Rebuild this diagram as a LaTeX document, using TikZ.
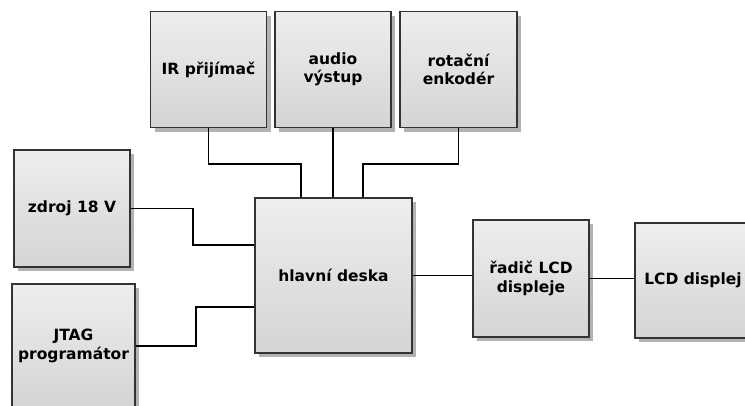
\documentclass[tikz,border=0pt]{standalone}
\usepackage{fontspec}
\setmainfont{DejaVu Sans}
\definecolor{BoxTop}{RGB}{238,238,238}
\definecolor{BoxBottom}{RGB}{212,212,212}
\definecolor{BoxEdge}{RGB}{51,51,51}
\definecolor{BoxShadow}{RGB}{178,178,178}
\usetikzlibrary{positioning,shadows,calc}

\begin{document}
\begin{tikzpicture}[x=1pt,y=-1pt,
        block/.style={draw=BoxEdge,line width=1.8pt,top color=BoxTop,bottom color=BoxBottom,
            drop shadow={shadow xshift=4pt,shadow yshift=-4pt,fill=BoxShadow,opacity=1},
            minimum width=116pt,minimum height=116pt,align=center,inner sep=2pt,
            font=\fontsize{15.5}{18.5}\selectfont\bfseries},
        wire/.style={line width=1.9pt,black}]
        \useasboundingbox (0,0) rectangle (745,405);
        % top row
        \node[block] at (208.5,69.5) (ir) {IR přijímač};
        \node[block] at (333,69.5) (audio) {audio\\výstup};
        \node[block,minimum width=117pt] at (458.5,69.5) (rot) {rotační\\enkodér};
        % left column
        \node[block,minimum height=117pt] at (72,208.5) (zdroj) {zdroj 18 V};
        \node[block,minimum width=123pt,minimum height=124pt] at (73.5,346) (jtag) {JTAG\\programátor};
        % main board and display
        \node[block,minimum width=157pt,minimum height=155pt] at (333.5,275.5) (main) {hlavní deska};
        \node[block,minimum height=117pt] at (531,278.5) (radic) {řadič LCD\\displeje};
        \node[block,minimum height=115pt] at (693,280.5) (lcd) {LCD displej};
        % connections
        \draw[wire] (ir.south) -- ++(0,36) -| ([xshift=-32.5pt]main.north);
        \draw[wire] (audio.south) -- (audio.south |- main.north);
        \draw[wire] (rot.south) -- ++(0,36) -| ([xshift=29.5pt]main.north);
        \draw[wire] (zdroj.east) -- ++(62,0) |- ([yshift=30.5pt]main.west);
        \draw[wire] (jtag.east) -- ++(60,0) |- ([yshift=-31.5pt]main.west);
        \draw[wire] (main.east) -- (radic.west |- main.east);
        \draw[wire] (radic.east) -- (lcd.west |- radic.east);
    \end{tikzpicture}
\end{document}
